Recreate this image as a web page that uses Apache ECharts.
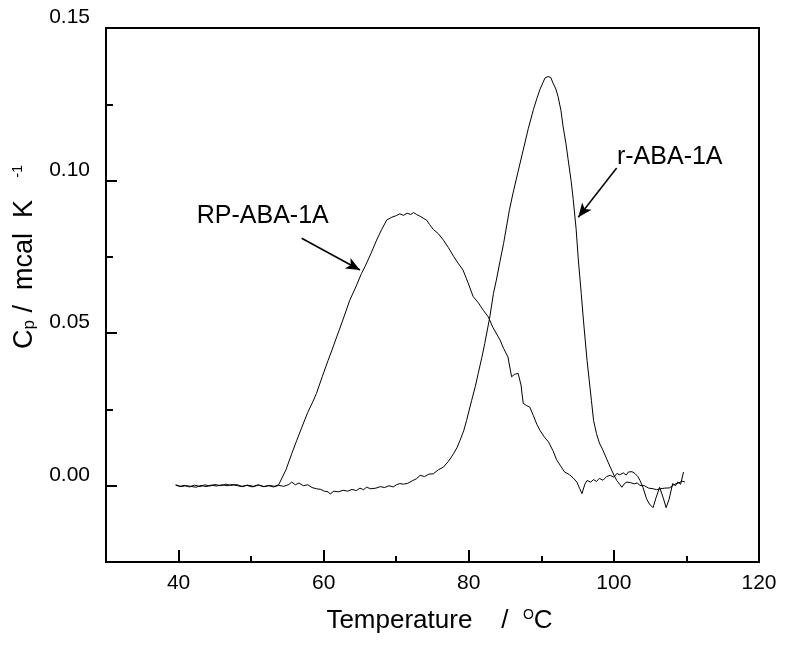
<!DOCTYPE html>
<html>
<head>
<meta charset="utf-8">
<title>DSC</title>
<script src="https://cdn.jsdelivr.net/npm/echarts@6/dist/echarts.min.js"></script>
<style>
  html, body { margin: 0; padding: 0; background: #fff; }
  #main { width: 786px; height: 652px; }
</style>
</head>
<body>
<div id="main"></div>
<script>
// RP-ABA-1A (broad peak ~72 C)
const rpTemp = [39.6, 40.2, 40.8, 41.5, 42.2, 43.0, 43.6, 44.3, 45.0, 45.8, 46.5, 47.2, 48.0, 48.7, 49.4, 50.2, 51.0, 51.8, 52.5, 53.2, 53.8, 54.0,
  54.8, 55.6, 56.3, 57.0, 57.8, 58.5, 59.0, 59.8, 60.6, 61.2, 61.8, 62.6, 63.6, 64.5, 65.2, 65.7, 66.5, 67.3, 68.0, 68.7, 69.4, 70.0,
  70.5, 71.0, 71.5, 72.0, 72.4, 72.8, 73.2, 73.7, 74.2, 74.6, 75.1, 75.8, 76.5, 77.2, 77.9, 78.5, 79.2, 79.9, 80.6, 81.3, 82.0, 82.7,
  83.3, 84.3, 84.8, 85.4, 85.9, 86.3, 86.8, 87.2, 87.5, 88.0, 88.4, 88.9, 89.4, 89.8, 90.4, 91.0, 91.6, 92.1, 92.6, 93.2, 93.9, 94.4,
  94.9, 95.3, 95.6, 96.0, 96.3, 96.8, 97.2, 97.6, 98.0, 98.5, 99.0, 99.5, 100.0, 100.4, 100.8, 101.3, 101.7, 102.0, 102.5, 102.9,
  103.3, 103.6, 104.0, 104.5, 104.9, 105.4, 105.8, 106.3, 106.8, 107.2, 107.6, 108.1, 108.5, 108.8, 109.2, 109.6];
const rpCp = [0.0003, -0.0002, 0.0001, -0.0004, 0.0002, -0.0003, 0.0003, -0.0001, 0.0004, 0.0000, 0.0005, 0.0001, 0.0004, -0.0002, 0.0001, -0.0004, 0.0002, -0.0003, 0.0001, -0.0002, 0.0003, 0.0000,
  0.0052, 0.0105, 0.0149, 0.0192, 0.0240, 0.0275, 0.0302, 0.0357, 0.0410, 0.0448, 0.0488, 0.0540, 0.0608, 0.0655, 0.0695, 0.0718, 0.0760, 0.0805, 0.0840, 0.0871, 0.0880, 0.0885,
  0.0891, 0.0886, 0.0893, 0.0889, 0.0895, 0.0889, 0.0884, 0.0877, 0.0870, 0.0856, 0.0840, 0.0826, 0.0805, 0.0780, 0.0752, 0.0730, 0.0707, 0.0665, 0.0620, 0.0600, 0.0575, 0.0553,
  0.0520, 0.0478, 0.0450, 0.0422, 0.0357, 0.0365, 0.0368, 0.0330, 0.0270, 0.0262, 0.0258, 0.0230, 0.0200, 0.0182, 0.0160, 0.0143, 0.0115, 0.0085, 0.0067, 0.0045, 0.0036, 0.0025,
  0.0012, -0.0010, -0.0026, 0.0005, 0.0017, 0.0012, 0.0020, 0.0014, 0.0024, 0.0018, 0.0030, 0.0034, 0.0028, 0.0040, 0.0036, 0.0042, 0.0035, 0.0045, 0.0046, 0.0040,
  0.0030, 0.0017, -0.0005, -0.0043, -0.0060, -0.0072, -0.0040, -0.0005, -0.0040, -0.0072, -0.0045, 0.0007, 0.0000, 0.0012, 0.0005, 0.0045];

// r-ABA-1A (sharp peak ~91 C)
const rTemp = [39.6, 40.3, 41.0, 41.7, 42.4, 43.1, 43.8, 44.5, 45.2, 46.0, 46.7, 47.4, 48.1, 48.8, 49.5, 50.3, 51.0, 51.7, 52.4, 53.1, 53.8, 54.5,
  55.2, 55.6, 56.1, 56.6, 57.2, 57.8, 58.4, 59.0, 59.6, 60.1, 60.6, 60.9, 61.4, 62.0, 62.7, 63.3, 63.9, 64.5, 65.0, 65.5, 65.9, 66.5,
  67.2, 67.8, 68.4, 69.0, 69.6, 70.0, 70.5, 71.0, 71.6, 72.2, 72.8, 73.3, 73.9, 74.5, 75.1, 75.8, 76.5, 77.2, 77.9, 78.4, 78.8, 79.3,
  79.7, 80.4, 80.9, 81.3, 81.8, 82.2, 82.9, 83.4, 83.8, 84.3, 84.8, 85.6, 86.1, 86.8, 87.5, 88.2, 88.9, 89.4, 89.8, 90.2, 90.5, 90.9,
  91.3, 91.6, 92.0, 92.3, 92.7, 93.0, 93.4, 93.7, 94.1, 94.4, 94.8, 95.1, 95.5, 95.8, 96.3, 96.9, 97.2, 97.6, 98.0, 98.5, 99.0, 99.5,
  100.0, 100.4, 100.8, 101.1, 101.5, 101.8, 102.3, 102.8, 103.2, 103.6, 104.2, 104.8, 105.4, 105.9, 106.4, 107.0, 107.7, 108.2, 108.6,
  109.0, 109.4, 109.8];
const rCp = [0.0002, -0.0003, 0.0000, -0.0002, -0.0005, 0.0001, -0.0003, 0.0002, -0.0001, 0.0003, 0.0000, 0.0004, 0.0000, -0.0003, 0.0002, -0.0002, 0.0003, -0.0003, 0.0000, -0.0004, 0.0001, -0.0002,
  0.0004, 0.0012, 0.0003, 0.0009, 0.0000, 0.0003, -0.0006, -0.0010, -0.0012, -0.0018, -0.0020, -0.0027, -0.0018, -0.0020, -0.0015, -0.0018, -0.0012, -0.0016, -0.0008, -0.0013, -0.0005, -0.0010,
  -0.0008, -0.0003, -0.0006, 0.0000, -0.0004, 0.0003, 0.0007, 0.0005, 0.0008, 0.0016, 0.0023, 0.0034, 0.0030, 0.0038, 0.0039, 0.0052, 0.0061, 0.0080, 0.0105, 0.0126, 0.0149, 0.0180,
  0.0214, 0.0280, 0.0325, 0.0368, 0.0420, 0.0466, 0.0553, 0.0630, 0.0674, 0.0735, 0.0794, 0.0904, 0.0959, 0.1030, 0.1100, 0.1170, 0.1232, 0.1270, 0.1298, 0.1320, 0.1336, 0.1341,
  0.1338, 0.1320, 0.1300, 0.1276, 0.1230, 0.1177, 0.1120, 0.1068, 0.1000, 0.0937, 0.0840, 0.0740, 0.0630, 0.0543, 0.0411, 0.0280, 0.0214, 0.0171, 0.0140, 0.0116, 0.0088, 0.0061,
  0.0035, 0.0017, 0.0005, -0.0005, 0.0008, 0.0012, 0.0010, 0.0006, 0.0009, 0.0001, 0.0000, -0.0008, -0.0010, -0.0013, -0.0010, -0.0008, -0.0007, 0.0002, 0.0007,
  0.0010, 0.0015, 0.0012];

const xMajor = [40, 60, 80, 100, 120];
const xMinor = [50, 70, 90, 110];
const yMajor = [0, 0.05, 0.10, 0.15];
const yMinor = [0.025, 0.075, 0.125];

const zip = (a, b) => a.map((t, i) => [t, b[i]]);

const font = 'Liberation Sans, Arial, sans-serif';
const black = '#000';

let myChart = echarts.init(document.getElementById('main'), null, {renderer: 'canvas'});

let option = {
  animation: false,
  backgroundColor: '#fff',
  grid: {
    left: 106, top: 28, right: 27, bottom: 90,
    show: true, borderColor: black, borderWidth: 2
  },
  xAxis: [
    {
      type: 'value', min: 30, max: 120,
      position: 'bottom',
      axisLine: {show: true, onZero: false, lineStyle: {color: black, width: 2}},
      axisTick: {show: true, inside: true, length: 12, customValues: xMajor, lineStyle: {color: black, width: 2}},
      axisLabel: {customValues: xMajor, color: black, fontFamily: font, fontSize: 21, margin: 11},
      splitLine: {show: false},
      name: '{a|Temperature    /  }{s|O}{a|C}',
      nameLocation: 'middle',
      nameGap: 46,
      nameTextStyle: {
        padding: [0, 0, 0, 14],
        rich: {
          a: {fontFamily: font, fontSize: 26, color: black},
          s: {fontFamily: font, fontSize: 14, color: black, verticalAlign: 'top', padding: [0, 0, 10, 0]}
        }
      }
    },
    {
      type: 'value', min: 30, max: 120,
      position: 'bottom',
      axisLine: {show: false, onZero: false},
      axisTick: {show: true, inside: true, length: 6, customValues: xMinor, lineStyle: {color: black, width: 2}},
      axisLabel: {show: false},
      splitLine: {show: false}
    }
  ],
  yAxis: [
    {
      type: 'value', min: -0.025, max: 0.15,
      position: 'left',
      axisLine: {show: true, onZero: false, lineStyle: {color: black, width: 2}},
      axisTick: {show: true, inside: true, length: 11, customValues: yMajor, lineStyle: {color: black, width: 2}},
      axisLabel: {
        customValues: yMajor, color: black, fontFamily: font, fontSize: 21, margin: 16,
        verticalAlign: 'bottom', padding: [0, 0, 0, 0],
        formatter: v => v.toFixed(2)
      },
      splitLine: {show: false},
      name: '{a|C}{b|p}{a| /  mcal  K   }{c|-1}',
      nameLocation: 'middle',
      nameGap: 65,
      nameTextStyle: {
        padding: [0, 0, 0, 76],
        rich: {
          a: {fontFamily: font, fontSize: 27, color: black},
          b: {fontFamily: font, fontSize: 17, color: black, verticalAlign: 'bottom', padding: [8, 0, 0, 0]},
          c: {fontFamily: font, fontSize: 14, color: black, verticalAlign: 'top', padding: [0, 0, 8, 0]}
        }
      }
    },
    {
      type: 'value', min: -0.025, max: 0.15,
      position: 'left',
      axisLine: {show: false, onZero: false},
      axisTick: {show: true, inside: true, length: 7, customValues: yMinor, lineStyle: {color: black, width: 2}},
      axisLabel: {show: false},
      splitLine: {show: false}
    }
  ],
  series: [
    {
      name: 'RP-ABA-1A',
      type: 'line',
      data: zip(rpTemp, rpCp),
      showSymbol: false,
      lineStyle: {color: black, width: 1},
      markLine: {
        silent: true,
        symbol: ['none', 'arrow'],
        symbolSize: [9, 14],
        label: {show: false},
        lineStyle: {color: black, width: 1.5, type: 'solid'},
        data: [[{coord: [56.97, 0.0811]}, {coord: [65.0, 0.0707]}]]
      },
      markPoint: {
        silent: true,
        symbol: 'circle', symbolSize: 0,
        label: {show: true, position: 'inside', formatter: 'RP-ABA-1A', fontFamily: font, fontSize: 25, color: black},
        data: [{coord: [51.6, 0.0884]}]
      }
    },
    {
      name: 'r-ABA-1A',
      type: 'line',
      data: zip(rTemp, rCp),
      showSymbol: false,
      lineStyle: {color: black, width: 1},
      markLine: {
        silent: true,
        symbol: ['none', 'arrow'],
        symbolSize: [9, 14],
        label: {show: false},
        lineStyle: {color: black, width: 1.5, type: 'solid'},
        data: [[{coord: [100.38, 0.1041]}, {coord: [95.09, 0.0880]}]]
      },
      markPoint: {
        silent: true,
        symbol: 'circle', symbolSize: 0,
        label: {show: true, position: 'inside', formatter: 'r-ABA-1A', fontFamily: font, fontSize: 25, color: black},
        data: [{coord: [107.7, 0.1078]}]
      }
    }
  ]
};

myChart.setOption(option);
</script>
</body>
</html>
